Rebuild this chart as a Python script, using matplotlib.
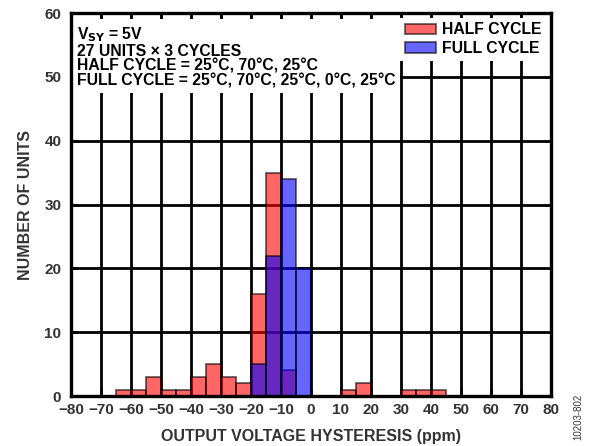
import numpy as np
import matplotlib
matplotlib.use('Agg')
import matplotlib.pyplot as plt

plt.rcParams['font.family'] = ['Liberation Sans', 'DejaVu Sans']
plt.rcParams['font.weight'] = 'bold'

# bin left edges (ppm), bin width 5
bin_edges = [-65, -60, -55, -50, -45, -40, -35, -30, -25, -20, -15, -10, -5, 10, 15, 30, 35, 40]
half_counts = [1, 1, 3, 1, 1, 3, 5, 3, 2, 16, 35, 4, 0, 1, 2, 1, 1, 1]
full_edges = [-20, -15, -10, -5]
full_counts = [5, 22, 34, 20]
xticks = list(range(-80, 81, 10))
yticks = list(range(0, 61, 10))

txt_col = '#333333'

fig = plt.figure(figsize=(5.96, 4.46), dpi=100)
ax = fig.add_axes([0.1191, 0.1121, 0.8054, 0.8587])

# grid drawn by hand so the text boxes can hide it while ticks stay on top
ax.vlines(xticks[1:-1], 0, 60, colors='black', linewidth=2.0, zorder=1)
ax.hlines(yticks[1:-1], -80, 80, colors='black', linewidth=2.0, zorder=1)

ax.bar(bin_edges, half_counts, width=5, align='edge', color='red', alpha=0.6,
       edgecolor='black', linewidth=1.3, label='HALF CYCLE', zorder=3)
ax.bar(full_edges, full_counts, width=5, align='edge', color='blue', alpha=0.6,
       edgecolor='black', linewidth=1.3, label='FULL CYCLE', zorder=4)

ax.set_xlim(-80, 80)
ax.set_ylim(0, 60)
ax.set_xticks(xticks)
ax.set_yticks(yticks)
ax.set_xticklabels([str(t).replace('-', '\u2212') for t in xticks], fontsize=11, color=txt_col)
ax.set_yticklabels([str(t) for t in yticks], fontsize=11, color=txt_col)
ax.tick_params(direction='in', length=5, width=1.8, top=True, right=False)
ax.tick_params(axis='x', pad=5)
ax.tick_params(axis='y', pad=7)
for s in ax.spines.values():
    s.set_linewidth(2.4)
    s.set_zorder(6)

ax.set_xlabel('OUTPUT VOLTAGE HYSTERESIS (ppm)', fontsize=11.5, fontweight='bold',
              color=txt_col, labelpad=9)
ax.set_ylabel('NUMBER OF UNITS', fontsize=11.5, fontweight='bold', color=txt_col, labelpad=8)

note = ('V$_{\\mathbf{SY}}$ = 5V\n27 UNITS \u00d7 3 CYCLES\n'
        'HALF CYCLE = 25\u00b0C, 70\u00b0C, 25\u00b0C\n'
        'FULL CYCLE = 25\u00b0C, 70\u00b0C, 25\u00b0C, 0\u00b0C, 25\u00b0C')
ax.text(0.012, 0.968, note, transform=ax.transAxes, fontsize=11.3, fontweight='bold',
        va='top', ha='left', linespacing=0.98, zorder=2,
        bbox=dict(facecolor='white', edgecolor='none', pad=3))

leg = ax.legend(loc='upper right', fontsize=11.3, frameon=True, fancybox=False,
                borderpad=0.3, handlelength=2.0, handleheight=0.65, handletextpad=0.4,
                labelspacing=0.22, borderaxespad=0.3)
leg.get_frame().set_edgecolor('none')
leg.get_frame().set_facecolor('white')
leg.get_frame().set_alpha(1)
leg.set_zorder(2)
for t in leg.get_texts():
    t.set_fontweight('bold')

fig.text(0.970, 0.013, '10203-802', rotation=90, fontsize=7, fontweight='normal',
         color=txt_col, ha='center', va='bottom')

fig.savefig('out.png', dpi=100)
